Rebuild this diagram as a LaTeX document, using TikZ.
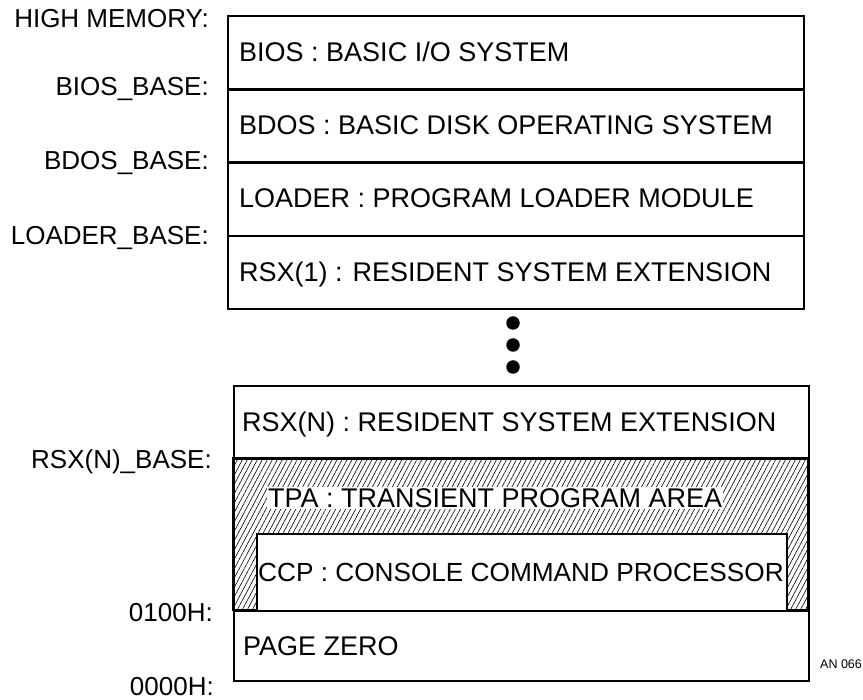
\documentclass[tikz,border=0pt]{standalone}
\usepackage{fontspec}
\setmainfont{Liberation Sans}
\usetikzlibrary{patterns.meta}
\begin{document}
\begin{tikzpicture}[x=1pt,y=-1pt,
  blk/.style={draw, line width=2.4pt, rectangle, anchor=north west, inner sep=0pt},
  topblk/.style={blk, minimum width=576pt, minimum height=73.25pt},
  txt/.style={anchor=west, inner sep=0pt, font=\fontsize{27}{30}\selectfont, text height=19.4pt, text depth=0pt},
  lbl/.style={anchor=east, inner sep=0pt, font=\fontsize{26}{30}\selectfont, text height=18.7pt, text depth=0pt},
  dotn/.style={circle, fill=black, inner sep=0pt, minimum size=13.5pt},
  hatch/.style={pattern={Lines[angle=62, distance=4.4pt, line width=0.6pt]}}]
\useasboundingbox (0,0) rectangle (863,700);
% top block
\node[topblk] (bios)   at (227,15)     {};
\node[topblk] (bdos)   at (227,88.25)  {};
\node[topblk] (loader) at (227,161.5)  {};
\node[topblk] (rsx1)   at (227,234.75) {};
\node[txt] (tbios)   at (239,51.6)  {BIOS : BASIC I/O SYSTEM};
\node[txt] (tbdos)   at (239,124.9) {BDOS : BASIC DISK OPERATING SYSTEM};
\node[txt] (tloader) at (239,198.1) {LOADER : PROGRAM LOADER MODULE};
\node[txt] (trsx1)   at (239,271.4) {RSX(1) : RESIDENT SYSTEM EXTENSION};
% dots
\node[dotn] (dot1) at (513,323) {};
\node[dotn] (dot2) at (513,345) {};
\node[dotn] (dot3) at (513,367) {};
% bottom block
\node[blk, minimum width=575pt, minimum height=73pt] (rsxn) at (233,385) {};
\node[blk, minimum width=575pt, minimum height=152pt, hatch] (tpa) at (233,458) {};
\node[blk, fill=white, minimum width=530pt, minimum height=77pt] (ccp) at (256,533) {};
\node[blk, minimum width=575pt, minimum height=70pt] (page0) at (233,610) {};
\node[txt] (trsxn)  at (242,421.5) {RSX(N) : RESIDENT SYSTEM EXTENSION};
\node[txt, fill=white, inner xsep=1pt, inner ysep=1.5pt] (ttpa) at (267,498) {TPA : TRANSIENT PROGRAM AREA};
\node[txt, font=\fontsize{26.2}{30}\selectfont] (tccp) at (258,572) {CCP : CONSOLE COMMAND PROCESSOR};
\node[txt] (tpage0) at (243,646)   {PAGE ZERO};
% address labels
\node[lbl] (lhigh)   at (209,18)  {HIGH MEMORY:};
\node[lbl] (lbios)   at (209,86)  {BIOS\_BASE:};
\node[lbl] (lbdos)   at (209,160) {BDOS\_BASE:};
\node[lbl] (lloader) at (209,235) {LOADER\_BASE:};
\node[lbl] (lrsxn)   at (212,459) {RSX(N)\_BASE:};
\node[lbl] (l0100)   at (213,612) {0100H:};
\node[lbl] (l0000)   at (214,686) {0000H:};
\node[anchor=west, inner sep=0pt, font=\fontsize{12.5}{14}\selectfont] (an) at (820,664) {AN 066};
\end{tikzpicture}
\end{document}
